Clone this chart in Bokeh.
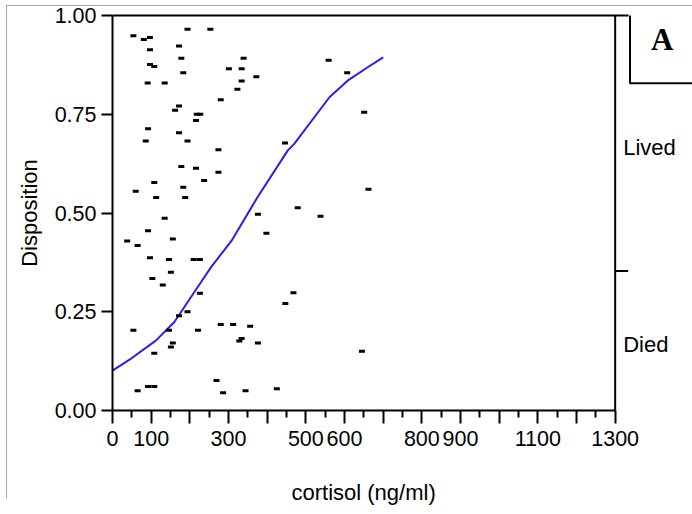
from bokeh.plotting import figure
from bokeh.models import Range1d, LinearAxis, FixedTicker, Label, NumeralTickFormatter, Span, Title
from bokeh.embed import file_html
from bokeh.resources import INLINE

# ---- data ----
lived_cortisol = [54, 81, 97, 194, 253, 97, 172, 97, 108, 178, 339, 301, 334, 372, 183, 334, 91, 135,
                  323, 280, 172, 162, 218, 227, 216, 92, 172, 86, 194, 274, 178, 216, 274, 108, 237,
                  60, 183, 113, 188, 135, 376, 92, 38, 65, 156, 97, 146, 210, 226, 446, 559, 607,
                  651, 662, 479, 538, 398]
lived_disp = [0.949, 0.939, 0.944, 0.965, 0.965, 0.913, 0.923, 0.876, 0.871, 0.892, 0.892, 0.865,
              0.865, 0.845, 0.855, 0.834, 0.829, 0.829, 0.813, 0.787, 0.771, 0.760, 0.750, 0.750,
              0.734, 0.713, 0.703, 0.682, 0.682, 0.660, 0.618, 0.613, 0.603, 0.577, 0.582, 0.555,
              0.565, 0.539, 0.539, 0.487, 0.497, 0.455, 0.429, 0.418, 0.434, 0.387, 0.382, 0.382,
              0.382, 0.677, 0.887, 0.855, 0.755, 0.560, 0.513, 0.492, 0.449]
died_cortisol = [151, 103, 130, 226, 194, 172, 54, 146, 221, 280, 312, 356, 156, 151, 108, 328, 334,
                 376, 65, 92, 108, 269, 286, 344, 468, 447, 645, 425]
died_disp = [0.350, 0.334, 0.318, 0.297, 0.250, 0.240, 0.203, 0.203, 0.203, 0.218, 0.218, 0.213,
             0.171, 0.161, 0.145, 0.176, 0.182, 0.171, 0.050, 0.061, 0.061, 0.076, 0.045, 0.050,
             0.298, 0.271, 0.150, 0.055]

curve_cortisol = [0, 43, 112, 160, 220, 255, 308, 375, 453, 470, 561, 608, 660, 700]
curve_prob = [0.101, 0.128, 0.177, 0.224, 0.312, 0.363, 0.430, 0.540, 0.658, 0.675, 0.793, 0.835,
              0.869, 0.894]

x_min, x_max = 0, 1300
x_ticks = list(range(0, 1301, 100))
x_minor_ticks = list(range(50, 1300, 100))
x_tick_labels = ["0", "100", "", "300", "", "500", "600", "", "800", "900", "", "1100", "", "1300"]
y_ticks = [0.0, 0.25, 0.5, 0.75, 1.0]
split_level = 0.353
level_names = ["Died", "Lived"]
level_centers = [0.167, 0.667]
panel_letter = "A"
x_title = "cortisol (ng/ml)"
y_title = "Disposition"

FONT = "Liberation Sans"
# frame extends to the right edge so that the level labels and letter box are drawable;
# 1300 maps to the right boundary of the data area
x_view_end = 1500

p = figure(width=692, height=514, x_range=Range1d(x_min, x_view_end), y_range=Range1d(0, 1),
           x_axis_type=None, y_axis_type=None, output_backend="svg", toolbar_location=None,
           min_border_left=112, min_border_right=0, min_border_top=15, min_border_bottom=104,
           background_fill_color="white", border_fill_color="white", border_fill_alpha=0)
p.styles = {"background": "linear-gradient(#aca899,#aca899) 6px 5px / 1px 493px no-repeat, "
                          "linear-gradient(#aca899,#aca899) 6px 5px / 686px 1px no-repeat, white"}
p.outline_line_color = None

# bottom axis
xaxis = LinearAxis(ticker=FixedTicker(ticks=x_ticks, minor_ticks=x_minor_ticks),
                   bounds=(x_min, x_max))
xaxis.major_label_overrides = {t: lab for t, lab in zip(x_ticks, x_tick_labels)}
xaxis.major_tick_out = 13
xaxis.major_tick_in = 0
xaxis.minor_tick_out = 7
xaxis.minor_tick_in = 0
xaxis.axis_line_width = 2
xaxis.major_tick_line_width = 2
xaxis.minor_tick_line_width = 2
xaxis.major_label_text_font = FONT
xaxis.major_label_text_font_size = "21.5px"
xaxis.major_label_text_color = "black"
xaxis.major_label_standoff = 7
p.add_layout(xaxis, "below")

# x-axis title, centred under the data area (0..1300)
p.add_layout(Title(text=x_title, align="left", offset=179, text_font=FONT,
                   text_font_size="22px", text_font_style="normal", text_color="black",
                   standoff=0, padding=dict(left=0, right=0, top=29, bottom=0)), "below")

# left axis
yaxis = LinearAxis(ticker=FixedTicker(ticks=y_ticks, minor_ticks=[]), axis_label=y_title,
                   formatter=NumeralTickFormatter(format="0.00"))
yaxis.major_tick_out = 11
yaxis.major_tick_in = 0
yaxis.axis_line_width = 2
yaxis.major_tick_line_width = 2
yaxis.major_label_text_font = FONT
yaxis.major_label_text_font_size = "21.5px"
yaxis.major_label_text_color = "black"
yaxis.major_label_standoff = 5
yaxis.axis_label_text_font = FONT
yaxis.axis_label_text_font_size = "22px"
yaxis.axis_label_text_font_style = "normal"
yaxis.axis_label_text_color = "black"
yaxis.axis_label_standoff = 10
p.add_layout(yaxis, "left")

# top border line (slightly past the right boundary, as in the reference)
taxis = LinearAxis(ticker=FixedTicker(ticks=[], minor_ticks=[]), bounds=(x_min, 1334))
taxis.major_tick_out = 0
taxis.major_tick_in = 0
taxis.axis_line_width = 2
taxis.major_label_text_font_size = "0px"
p.add_layout(taxis, "above")

# right boundary with the response-level split tick
p.add_layout(Span(location=x_max, dimension="height", line_color="black", line_width=2))
p.ray(x=[x_max], y=[split_level], length=13, length_units="screen", angle=0,
      line_color="black", line_width=2)

for name, yc in zip(level_names, level_centers):
    p.add_layout(Label(x=x_max, y=yc, x_offset=8, text=name, text_align="left",
                       text_baseline="middle", text_font=FONT, text_font_size="22px",
                       text_color="black"))

# panel letter box
p.add_layout(Label(x=x_max, y=0.917, x_offset=47, y_offset=3, text=panel_letter,
                   text_align="center", text_baseline="middle", text_font="Liberation Serif",
                   text_font_style="bold", text_font_size="31px", text_color="black",
                   border_line_color="black", border_line_width=2,
                   background_fill_color="white",
                   padding=dict(left=21, right=21, top=15, bottom=26)))

# logistic fit curve
p.line(curve_cortisol, curve_prob, line_color="#3219ee", line_width=2)

# observations
p.rect(lived_cortisol, lived_disp, width=6, height=3, width_units="screen", height_units="screen",
       fill_color="black", line_color=None)
p.rect(died_cortisol, died_disp, width=6, height=3, width_units="screen", height_units="screen",
       fill_color="black", line_color=None)

open("out.html", "w").write(file_html(p, INLINE))
